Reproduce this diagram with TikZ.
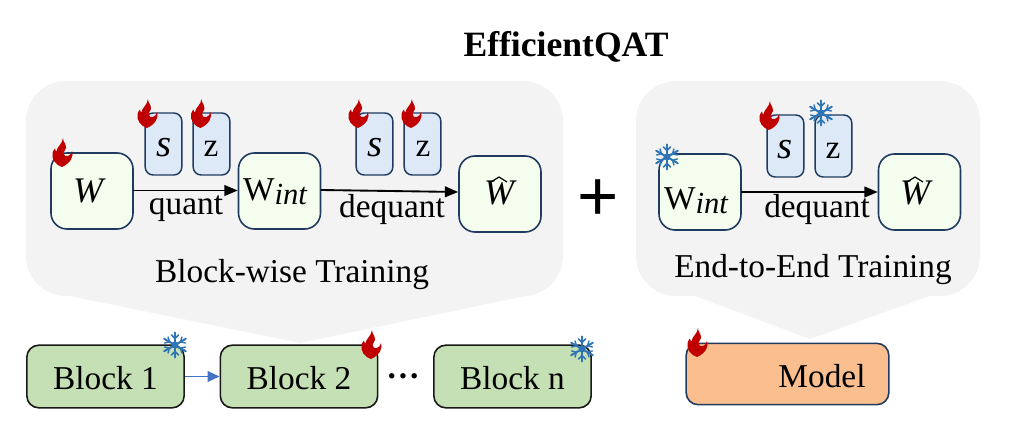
\documentclass[tikz,border=0pt]{standalone}
\usepackage{fontspec}
\setmainfont{Liberation Serif}
\usetikzlibrary{arrows.meta}
\definecolor{panelgray}{HTML}{F3F3F3}
\definecolor{boxfill}{HTML}{F4FDEE}
\definecolor{navy}{HTML}{203A60}
\definecolor{paramfill}{HTML}{DEE9F8}
\definecolor{blockfill}{HTML}{C5E0B4}
\definecolor{modelfill}{HTML}{FBBF8F}
\definecolor{flamered}{HTML}{C00000}
\definecolor{snowblue}{HTML}{2F75B5}
\definecolor{linkblue}{HTML}{4472C4}
\newcommand{\txt}{\fontsize{25}{30}\selectfont}
\newcommand{\wint}{W\raisebox{-3pt}{\fontsize{23}{26}\selectfont\itshape int}}
\newcommand{\wvar}{{\fontsize{27}{30}\selectfont\itshape W}}
\newcommand{\svar}{{\fontsize{29}{30}\selectfont\itshape s}}
\tikzset{
  x=0.75pt,y=-0.75pt,
  roundbox/.style={draw=navy,line width=1.2pt,fill=boxfill,rounded corners=12pt,minimum width=61.5pt,minimum height=57pt,inner sep=0pt},
  parambox/.style={draw=navy,line width=1.1pt,fill=paramfill,rounded corners=6pt,minimum width=27.5pt,minimum height=46.5pt,inner sep=0pt},
  blockbox/.style={draw=black!90,line width=1.2pt,fill=blockfill,rounded corners=9pt,minimum width=118pt,minimum height=47pt,inner sep=0pt,font=\txt,text height=23pt,text depth=4.2pt},
  modelbox/.style={draw=navy,line width=1.2pt,fill=modelfill,rounded corners=9pt,minimum width=152pt,minimum height=46pt,inner sep=0pt},
  lbl/.style={font=\txt,inner sep=0pt,anchor=base},
  flow/.style={-{Triangle[length=10pt,width=8pt]},black,line width=1.4pt,shorten <=-0.5pt},
  hat/.style={line width=0.9pt,black},
  flame/.pic={
    \fill[flamered] (11,0) .. controls (10.5,3) and (14.5,6) .. (14,10)
      .. controls (13.7,12.5) and (11.5,13) .. (11.5,15)
      .. controls (11.5,17.5) and (14,19) .. (16,18)
      .. controls (18,17) and (19.5,16) .. (20,13)
      .. controls (22,18) and (19,25) .. (10,29)
      .. controls (4,27) and (-0.5,22) .. (0.5,15)
      .. controls (1,13) and (2,11.5) .. (3,10.5)
      .. controls (3.2,12) and (3.5,13) .. (4.5,13.5)
      .. controls (4.5,9) and (10.5,6) .. (11,0) -- cycle;
  },
  flake/.pic={
    \foreach \a in {30,90,150,210,270,330}{
      \begin{scope}[rotate=\a]
        \draw[snowblue,line width=1.5pt,line cap=round] (0,0) -- (12.5,0);
        \draw[snowblue,line width=1.1pt,line cap=round] (10,-3.5) -- (6.5,0) -- (10,3.5);
      \end{scope}
    }
    \fill[snowblue] (0,0) circle (3.5);
  },
}
\begin{document}
\begin{tikzpicture}
\useasboundingbox (0,0) rectangle (1010,438);
% panels
\coordinate (tipL) at (300,343);
\coordinate (tipR) at (810,339);
\fill[panelgray] (60,294) -- (tipL) -- (535,294) -- cycle;
\fill[panelgray] (690,294) -- (tipR) -- (935,294) -- cycle;
\fill[panelgray,rounded corners=30pt] (26,81) rectangle (563,296);
\fill[panelgray,rounded corners=30pt] (636,81) rectangle (980,296);
\node[font=\fontsize{26.7}{30}\bfseries\selectfont,inner sep=0pt] (title) at (566,47) {EfficientQAT};
% left panel
\node[roundbox] (w) at (92,191) {};
\node[roundbox] (wintb) at (279.5,191) {};
\node[roundbox] (what) at (500,194) {};
\node[parambox] (s1) at (163.5,144) {};
\node[parambox] (z1) at (211.5,144) {};
\node[parambox] (s2) at (374.5,144) {};
\node[parambox] (z2) at (422.5,144) {};
\node[lbl] (s1t) at (164,157) {\svar};
\node[lbl] (z1t) at (211,157) {z};
\node[lbl] (s2t) at (375,157) {\svar};
\node[lbl] (z2t) at (423,157) {z};
\node[lbl] (wt) at (88,203) {\wvar};
\node[lbl] (wintt) at (275,201) {\wint};
\node[lbl] (whatt) at (499,205) {\wvar};
\draw[hat] (whatt.base) ++(-8,-23) -- ++(8,-5) -- ++(8,5);
\draw[flow] (w.east |- 0,190.5) -- (wintb.west |- 0,190.5);
\draw[flow] (wintb.east |- 0,190) -- (what.west |- 0,192);
\node[lbl] (quant) at (186,215) {quant};
\node[lbl] (dequant) at (392,218) {dequant};
\node[lbl] (bwt) at (292,283) {Block-wise Training};
% plus
\node[font=\fontsize{53}{56}\selectfont\fontspec{Liberation Sans},inner sep=0pt] (plus) at (598,200) {+};
% right panel
\node[roundbox] (wint2) at (700,192) {};
\node[roundbox] (what2) at (919.5,192) {};
\node[parambox] (s3) at (785.5,146) {};
\node[parambox] (z3) at (833.5,146) {};
\node[lbl] (s3t) at (785,159) {\svar};
\node[lbl] (z3t) at (833,159) {z};
\node[lbl] (wint2t) at (696,210) {\wint};
\node[lbl] (what2t) at (915,205) {\wvar};
\draw[hat] (what2t.base) ++(-8,-23) -- ++(8,-5) -- ++(8,5);
\draw[flow] (wint2) -- (what2);
\node[lbl] (dequant2) at (817,218) {dequant};
\node[lbl] (e2e) at (813,278) {End-to-End Training};
% blocks
\node[blockbox] (b1) at (105.5,376.5) {Block 1};
\node[blockbox] (b2) at (299,376.5) {Block 2};
\node[blockbox] (bn) at (512.5,376.5) {Block n};
\draw[-{Triangle[length=9pt,width=8pt]},linkblue,line width=1.4pt] (b1) -- (b2);
\node[lbl,font=\txt\bfseries] (dots) at (403,378) {…};
\node[modelbox] (model) at (787.5,374) {};
\node[lbl] (modelt) at (822,387) {Model};
% flames
\foreach \p in {(52,138),(137,99),(190.5,99),(348,99),(401,99),(759,101),(361,330),(687,328)}
  \pic at \p {flame};
% snowflakes
\foreach \p in {(667,157),(821,113),(175,345),(582,349)}
  \pic at \p {flake};
\end{tikzpicture}
\end{document}
